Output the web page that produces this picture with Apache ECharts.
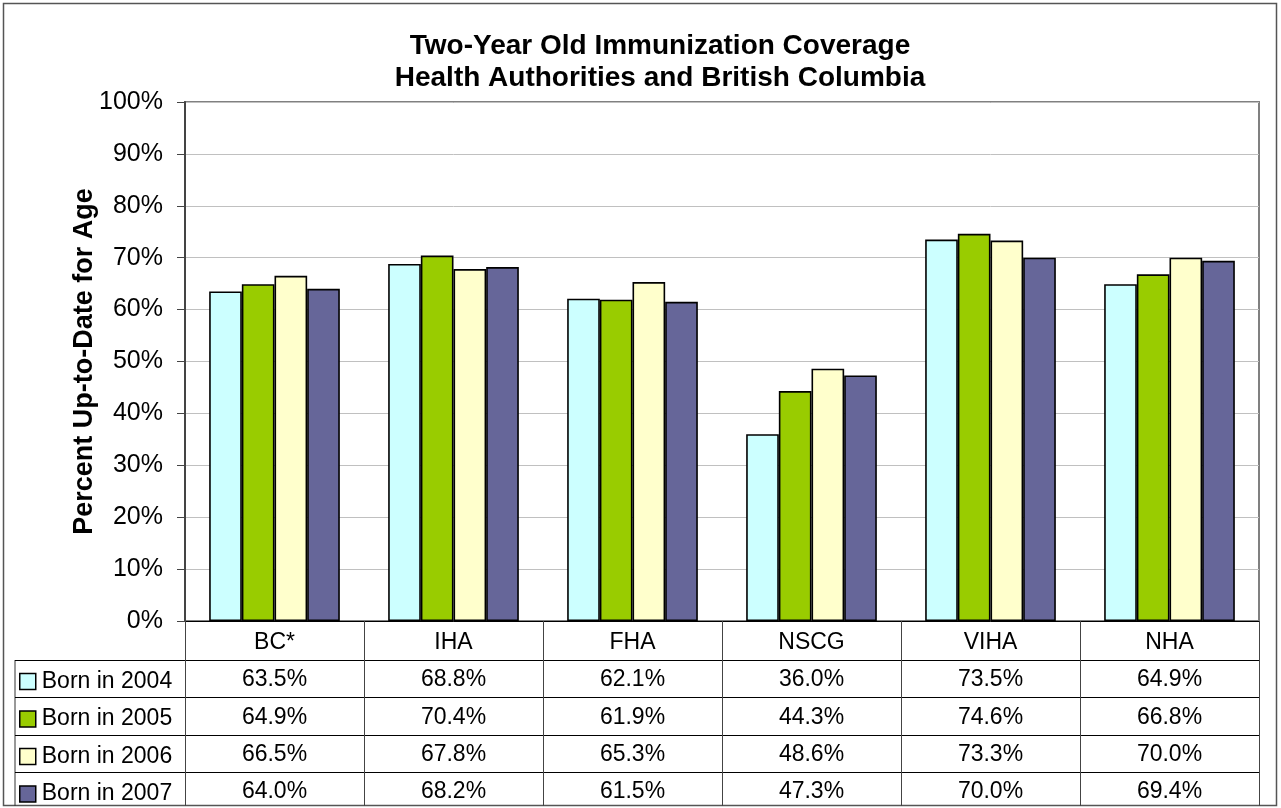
<!DOCTYPE html>
<html>
<head>
<meta charset="utf-8">
<script src="https://cdn.jsdelivr.net/npm/echarts@6/dist/echarts.min.js"></script>
<style>
    html, body { margin: 0; padding: 0; background: #fff; }
    #chart { width: 1281px; height: 808px; }
</style>
</head>
<body>
<div id="chart"></div>
<script>
    var regions = ['BC*', 'IHA', 'FHA', 'NSCG', 'VIHA', 'NHA'];
    var seriesNames = ['Born in 2004', 'Born in 2005', 'Born in 2006', 'Born in 2007'];
    var born2004 = [63.5, 68.8, 62.1, 36.0, 73.5, 64.9];
    var born2005 = [64.9, 70.4, 61.9, 44.3, 74.6, 66.8];
    var born2006 = [66.5, 67.8, 65.3, 48.6, 73.3, 70.0];
    var born2007 = [64.0, 68.2, 61.5, 47.3, 70.0, 69.4];
    var seriesData = [born2004, born2005, born2006, born2007];
    var colors = ['#CCFFFF', '#99CC00', '#FFFFCC', '#666699'];

    var font = 'Arial, "Liberation Sans", sans-serif';
    var chart = echarts.init(document.getElementById('chart'));

    // x axis label = category header + one table row per series
    var labelFor = function (name, idx) {
        var lines = [name];
        for (var s = 0; s < seriesData.length; s++) {
            lines.push(seriesData[s][idx].toFixed(1) + '%');
        }
        return lines.join('\n');
    };

    // table rules (row separators)
    var rowLines = [660, 697, 735, 772];
    var graphics = [{
        type: 'rect',
        shape: { x: 3.5, y: 3.5, width: 1273, height: 802 },
        style: { fill: 'none', stroke: '#555', lineWidth: 1.5 },
        silent: true
    }, {
        type: 'line',
        shape: { x1: 15, y1: 660, x2: 15, y2: 806 },
        style: { stroke: '#333', lineWidth: 1 },
        silent: true
    }];
    rowLines.forEach(function (y) {
        graphics.push({
            type: 'line',
            shape: { x1: 15, y1: y + 0.5, x2: 1259, y2: y + 0.5 },
            style: { stroke: '#000', lineWidth: 1 },
            silent: true
        });
    });

    var series = seriesNames.map(function (name, i) {
        return {
            name: name,
            type: 'bar',
            data: seriesData[i],
            barGap: '0%',
            barCategoryGap: '27%',
            itemStyle: {
                color: colors[i],
                borderColor: '#000',
                borderWidth: 1.6
            }
        };
    });

    var option = {
        backgroundColor: '#fff',
        animation: false,
        title: {
            text: 'Two-Year Old Immunization Coverage\nHealth Authorities and British Columbia',
            left: 655,
            textAlign: 'center',
            top: 25,
            textStyle: {
                fontFamily: font,
                fontSize: 28,
                fontWeight: 'bold',
                color: '#000',
                lineHeight: 32
            }
        },
        legend: {
            orient: 'vertical',
            left: 19,
            top: 670,
            padding: 0,
            icon: 'rect',
            itemWidth: 16,
            itemHeight: 16,
            itemGap: 14.5,
            itemStyle: { borderColor: '#000', borderWidth: 1.5 },
            textStyle: {
                fontFamily: font,
                fontSize: 23,
                color: '#000',
                lineHeight: 22,
                padding: [0, 0, 0, 1]
            },
            data: seriesNames
        },
        grid: {
            left: 185,
            right: 22,
            top: 102,
            bottom: 187,
            outerBoundsMode: 'none',
            show: true,
            borderColor: '#808080',
            borderWidth: 2
        },
        xAxis: {
            type: 'category',
            data: regions,
            axisLine: { lineStyle: { color: '#000', width: 1 } },
            axisTick: {
                show: true,
                interval: 0,
                alignWithLabel: false,
                length: 185,
                lineStyle: { color: '#444', width: 1 }
            },
            axisLabel: {
                interval: 0,
                margin: 3,
                fontFamily: font,
                fontSize: 23,
                color: '#000',
                lineHeight: 37.3,
                formatter: labelFor
            }
        },
        yAxis: {
            type: 'value',
            min: 0,
            max: 100,
            interval: 10,
            name: 'Percent Up-to-Date for Age',
            nameLocation: 'middle',
            nameGap: 87,
            nameMoveOverlap: false,
            nameTextStyle: {
                fontFamily: font,
                fontSize: 27,
                fontWeight: 'bold',
                color: '#000'
            },
            axisLine: { show: true, lineStyle: { color: '#444', width: 2 } },
            axisTick: { show: true, inside: false, length: 8, lineStyle: { color: '#444' } },
            axisLabel: {
                margin: 22,
                fontFamily: font,
                fontSize: 25,
                color: '#000',
                formatter: '{value}%'
            },
            splitLine: { lineStyle: { color: '#C0C0C0', width: 1 } }
        },
        graphic: graphics,
        series: series
    };
    chart.setOption(option);
</script>
</body>
</html>
